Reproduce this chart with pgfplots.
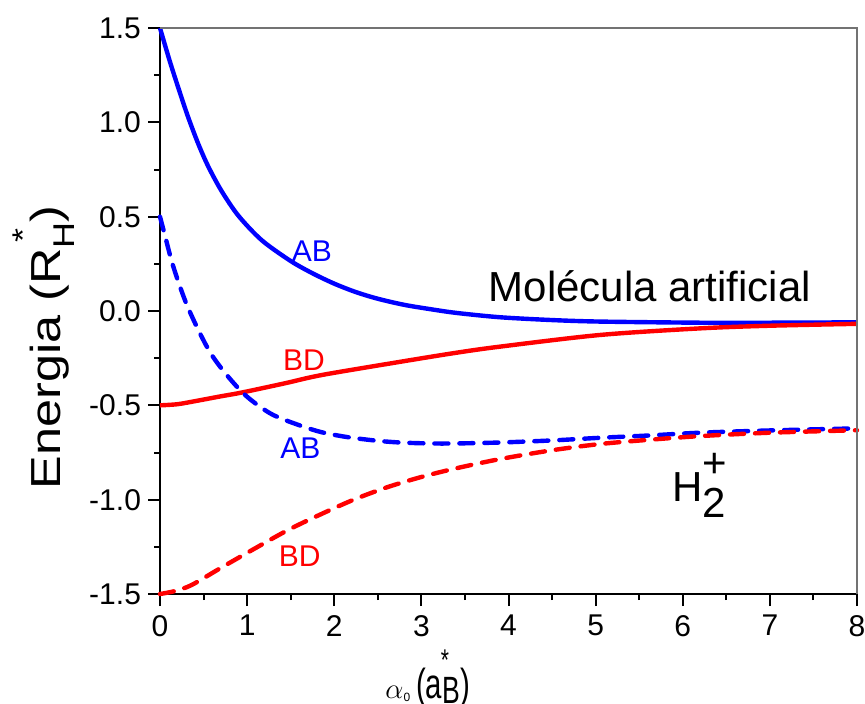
\documentclass[border=0pt]{standalone}
\usepackage{fontspec}
\setmainfont{Liberation Sans}
\usepackage{pgfplots}
\pgfplotsset{compat=1.18}
\definecolor{myblue}{RGB}{0,0,255}
\definecolor{myred}{RGB}{255,0,0}
\begin{document}
\begin{tikzpicture}
\useasboundingbox (-80pt,-54.5pt) rectangle (352.5pt,297pt);
\begin{axis}[
  at={(0pt,0pt)}, anchor=south west,
  width=348.5pt, height=283pt, scale only axis,
  xmin=0, xmax=8, ymin=-1.5, ymax=1.5,
  axis x line*=bottom, axis y line*=left,
  axis line style={black, line width=1pt},
  xtick={0,1,2,3,4,5,6,7,8}, xticklabels={0,1,2,3,4,5,6,7,8},
  ytick={-1.5,-1,-0.5,0,0.5,1,1.5}, yticklabels={-1.5,-1.0,-0.5,0.0,0.5,1.0,1.5},
  minor x tick num=1, minor y tick num=1,
  tick align=outside,
  major tick length=6pt, minor tick length=3pt,
  every tick/.style={black, line width=1pt},
  ticklabel style={font=\fontsize{15}{15}\selectfont},
  xticklabel style={yshift=-1pt},
  clip=false,
]
% blue solid: AB, artificial molecule
\addplot[myblue, line width=2.2pt, smooth] coordinates {
 (0,1.5) (0.115,1.32) (0.23,1.155) (0.325,1.025) (0.44,0.885) (0.555,0.765)
 (0.708,0.635) (0.9,0.505) (1.168,0.375) (1.5,0.265) (1.75,0.2) (2.0,0.145)
 (2.25,0.1) (2.5,0.065) (2.8,0.033) (3.1,0.01) (3.4,-0.01) (3.9,-0.033)
 (4.5,-0.048) (5.05,-0.056) (6.2,-0.062) (7,-0.062) (8,-0.06)};
% red solid: BD, artificial molecule
\addplot[myred, line width=2.2pt, smooth] coordinates {
 (0,-0.5) (0.2,-0.494) (0.4,-0.478) (0.7,-0.452) (0.94,-0.432) (1.435,-0.383)
 (1.86,-0.339) (2.76,-0.269) (3.39,-0.222) (3.9,-0.189) (5.05,-0.127) (6.2,-0.092)
 (7,-0.078) (8,-0.068)};
% blue dashed: AB, H2+
\addplot[myblue, line width=2.2pt, smooth, line cap=round, dash pattern=on 7pt off 5.5pt] coordinates {
 (0,0.5) (0.057,0.40) (0.153,0.235) (0.325,0.014) (0.594,-0.233) (0.938,-0.428)
 (1.263,-0.542) (1.59,-0.604) (1.86,-0.643) (2.16,-0.669) (2.5,-0.688) (2.76,-0.697)
 (3.1,-0.702) (3.39,-0.702) (3.9,-0.697) (4.5,-0.686) (5.05,-0.672) (5.6,-0.66)
 (6.2,-0.645) (7,-0.633) (8,-0.622)};
% red dashed: BD, H2+
\addplot[myred, line width=2.2pt, smooth, line cap=round, dash pattern=on 7pt off 5.5pt] coordinates {
 (0,-1.5) (0.172,-1.484) (0.364,-1.452) (0.708,-1.359) (1.091,-1.258) (1.473,-1.16)
 (1.857,-1.075) (2.239,-0.997) (2.621,-0.932) (3.005,-0.879) (3.387,-0.835) (3.9,-0.785)
 (4.5,-0.738) (5.05,-0.705) (5.6,-0.683) (6.2,-0.663) (7,-0.645) (8,-0.632)};
\draw[black!55, line width=0.6pt] (rel axis cs:0,1) -- (rel axis cs:1,1) -- (rel axis cs:1,0);
\node[anchor=base west, inner sep=0, text=myblue, font=\fontsize{15}{15}\selectfont] at (axis cs:1.51,0.261) {AB};
\node[anchor=base west, inner sep=0, text=myblue, font=\fontsize{15}{15}\selectfont] at (axis cs:1.378,-0.781) {AB};
\node[anchor=base west, inner sep=0, text=myred, font=\fontsize{15}{15}\selectfont] at (axis cs:1.408,-0.316) {BD};
\node[anchor=base west, inner sep=0, text=myred, font=\fontsize{15}{15}\selectfont] at (axis cs:1.359,-1.355) {BD};
\node[anchor=base west, inner sep=0, font=\fontsize{21}{21}\selectfont] at (axis cs:3.77,0.05) {Molécula artificial};
\node[anchor=base west, inner sep=0, font=\fontsize{21}{21}\selectfont] at (axis cs:5.875,-1.011)
  {H\rlap{\raisebox{12pt}{+}}\raisebox{-8pt}{2}};
\end{axis}
% y label
\node[rotate=90, anchor=base, inner sep=0] at (-49.5pt,123.25pt)
  {\scalebox{1.2}[1]{\fontsize{21}{21}\selectfont Energia (R\rlap{\raisebox{13.5pt}{\fontsize{15}{15}\selectfont\,*}}\raisebox{-7pt}{\fontsize{15}{15}\selectfont H})}};
% x label
\node[anchor=base west, inner sep=0] at (112.5pt,-52pt)
  {{\fontsize{14}{14}\selectfont$\alpha$}\raisebox{-1.5pt}{\fontsize{6}{6}\selectfont 0}\hspace{3pt}\scalebox{0.7}[1]{{\fontsize{21}{21}\selectfont (a}\rlap{\hspace{-1pt}\raisebox{13.8pt}{\fontsize{15}{15}\selectfont *}}\raisebox{-2.5pt}{\fontsize{19}{19}\selectfont B}{\fontsize{21}{21}\selectfont )}}};
\end{tikzpicture}
\end{document}
